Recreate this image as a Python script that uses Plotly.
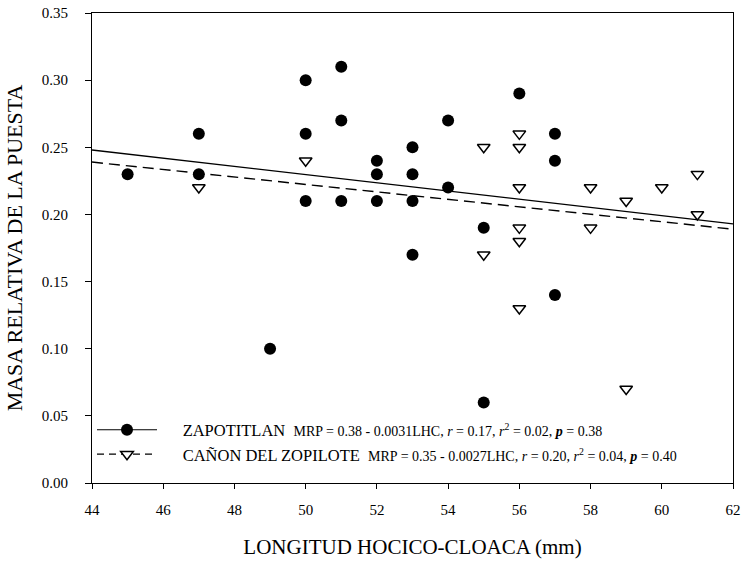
import plotly.graph_objects as go

# Data
zap_x = [45, 47, 47, 49, 50, 50, 50, 51, 51, 51, 52, 52, 52, 53, 53, 53, 53, 54, 54, 55, 55, 56, 57, 57, 57]
zap_y = [0.23, 0.26, 0.23, 0.10, 0.30, 0.26, 0.21, 0.31, 0.27, 0.21, 0.24, 0.23, 0.21, 0.25, 0.23, 0.21, 0.17,
         0.27, 0.22, 0.19, 0.06, 0.29, 0.26, 0.24, 0.14]
can_x = [47, 50, 55, 55, 56, 56, 56, 56, 56, 56, 58, 58, 59, 59, 60, 61, 61]
can_y = [0.22, 0.24, 0.25, 0.17, 0.26, 0.25, 0.22, 0.19, 0.18, 0.13, 0.22, 0.19, 0.21, 0.07, 0.22, 0.23, 0.20]

fit_x = [44, 62]
zap_fit = [0.248, 0.193]
can_fit = [0.239, 0.189]

x_ticks = [44, 46, 48, 50, 52, 54, 56, 58, 60, 62]
x_ticklabels = ["44", "46", "48", "50", "52", "54", "56", "58", "60", "62"]
y_ticks = [0.00, 0.05, 0.10, 0.15, 0.20, 0.25, 0.30, 0.35]
y_ticklabels = ["0.00", "0.05", "0.10", "0.15", "0.20", "0.25", "0.30", "0.35"]

SERIF = "Liberation Serif"
TICKSPAN = "<span style='font-family:Liberation Serif, serif'>{}</span>"

NB = "\u00a0"
SMALL = "<span style='font-size:14px'>"
zap_label = (NB * 5 + "ZAPOTITLAN" + NB * 2 + SMALL + "MRP = 0.38 - 0.0031LHC, <i>r</i> = 0.17, "
             "<i>r</i><sup>2</sup> = 0.02, <b><i>p</i></b> = 0.38</span>")
can_label = (NB * 5 + "CAÑON DEL ZOPILOTE" + NB * 2 + SMALL + "MRP = 0.35 - 0.0027LHC, <i>r</i> = 0.20, "
             "<i>r</i><sup>2</sup> = 0.04, <b><i>p</i></b> = 0.40</span>")

fig = go.Figure()
fig.add_trace(go.Scatter(x=fit_x, y=zap_fit, mode="lines", line=dict(color="black", width=1.4),
                         showlegend=False, hoverinfo="skip"))
fig.add_trace(go.Scatter(x=fit_x, y=can_fit, mode="lines", line=dict(color="black", width=1.4, dash="11px,6px"),
                         showlegend=False, hoverinfo="skip"))
fig.add_trace(go.Scatter(x=zap_x, y=zap_y, mode="markers", showlegend=False,
                         marker=dict(symbol="circle", size=12, color="black")))
fig.add_trace(go.Scatter(x=can_x, y=can_y, mode="markers", showlegend=False,
                         marker=dict(symbol="triangle-down", size=11, color="white",
                                     line=dict(color="black", width=1.5))))
# legend entries
fig.add_trace(go.Scatter(x=[None], y=[None], mode="lines+markers", name=zap_label,
                         line=dict(color="black", width=1.2),
                         marker=dict(symbol="circle", size=12, color="black")))
fig.add_trace(go.Scatter(x=[None], y=[None], mode="lines+markers", name=can_label,
                         line=dict(color="black", width=1.2, dash="7px,5px"),
                         marker=dict(symbol="triangle-down", size=11, color="white",
                                     line=dict(color="black", width=1.5))))

fig.update_layout(
    width=743, height=564,
    margin=dict(l=92, r=10, t=13, b=81),
    plot_bgcolor="white", paper_bgcolor="white",
    font=dict(family=SERIF, color="black", size=15),
    xaxis=dict(range=[44, 62], tickmode="array", tickvals=x_ticks,
               ticktext=[TICKSPAN.format(t) for t in x_ticklabels], ticklen=5,
               ticklabelstandoff=8, automargin=False,
               showline=True, linecolor="black", linewidth=1.2, mirror=True, ticks="outside",
               tickcolor="black", showgrid=False, zeroline=False,
               tickfont=dict(family=SERIF, size=15, color="black"),
               title=dict(text="LONGITUD HOCICO-CLOACA (mm)", font=dict(family=SERIF, size=21), standoff=22)),
    yaxis=dict(range=[0, 0.35], tickmode="array", tickvals=y_ticks,
               ticktext=[TICKSPAN.format(t) for t in y_ticklabels], ticklen=6,
               ticklabelstandoff=14, automargin=False,
               showline=True, linecolor="black", linewidth=1.2, mirror=True, ticks="outside",
               tickcolor="black", showgrid=False, zeroline=False,
               tickfont=dict(family=SERIF, size=15, color="black"),
               title=dict(text="MASA RELATIVA DE LA PUESTA", font=dict(family=SERIF, size=22), standoff=12)),
    legend=dict(x=0.0, y=0.15, xanchor="left", yanchor="top", bgcolor="rgba(0,0,0,0)",
                font=dict(family=SERIF, size=16.5, color="black"), itemwidth=60,
                tracegroupgap=0),
)

fig.write_html("out.html")
